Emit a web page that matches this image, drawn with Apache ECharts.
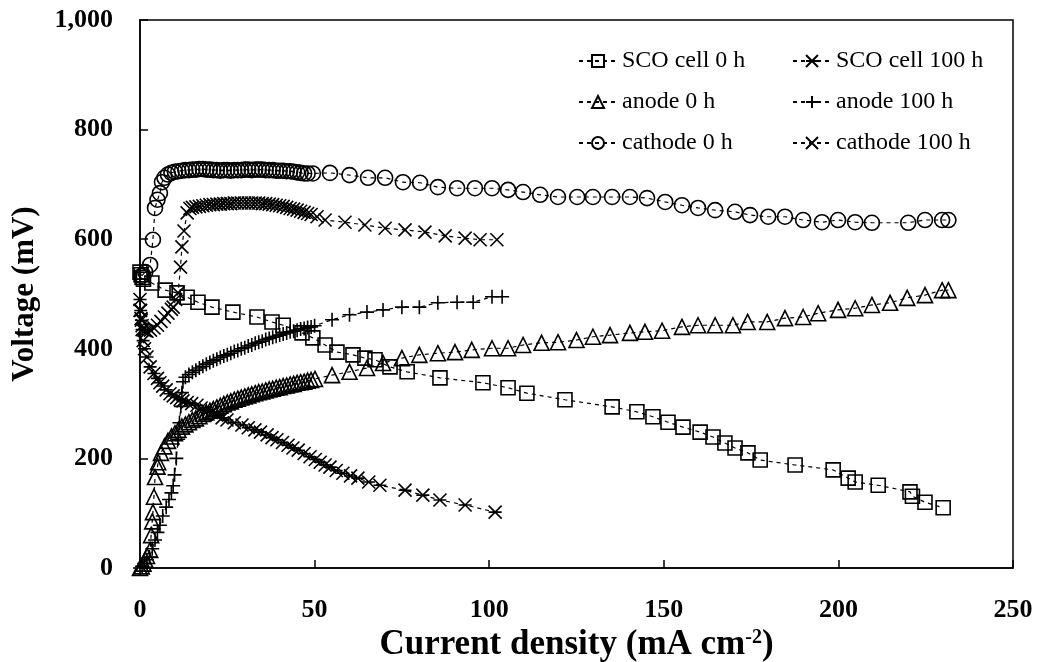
<!DOCTYPE html>
<html>
<head>
<meta charset="utf-8">
<title>Voltage vs current density</title>
<script src="https://cdn.jsdelivr.net/npm/echarts@6/dist/echarts.min.js"></script>
<style>
  html, body { margin: 0; padding: 0; background: #fff; }
  #chart { width: 1039px; height: 662px; }
</style>
</head>
<body>
<div id="chart"></div>
<script>
// Polarisation curves: [current density (mA cm-2), voltage (mV)]
const xTicks = [0, 50, 100, 150, 200, 250];
const yTicks = [0, 200, 400, 600, 800, 1000];

const scoCell0h = [
  [0, 540], [0.3, 535], [0.6, 530], [1, 527], [3.4, 520], [7.2, 507], [10.6, 502], [13.5, 494],
  [16.6, 485], [20.6, 476], [26.6, 467], [33.5, 458], [37.8, 449], [41, 443], [46.4, 429],
  [49.5, 420], [53, 407], [56.4, 394], [61, 389], [64.4, 383], [67.3, 380], [71.6, 367],
  [76.5, 358], [85.9, 347], [98.2, 338], [105.4, 329], [110.8, 319], [121.7, 307], [135.2, 294],
  [142.3, 285], [146.9, 276], [151.2, 266], [155.5, 257], [160.4, 248], [164.1, 239],
  [167.5, 228], [170.4, 219], [174.1, 210], [177.6, 197], [187.6, 188], [198.5, 179],
  [202.8, 164], [204.8, 157], [211.4, 151], [220.5, 139], [221.2, 131], [224.8, 120], [230, 110]
];

const scoCell100h = [
  [0, 490], [0.2, 470], [0.4, 452], [0.6, 435], [0.9, 415], [1.3, 400], [2, 385], [2.9, 367],
  [4, 355], [5, 346], [5.7, 338], [6.5, 332], [7.5, 325], [8.6, 318], [9.5, 314], [10.5, 311],
  [11.5, 308], [12.3, 305], [13.5, 302], [14.8, 300], [16.3, 297], [17.5, 292], [19, 288],
  [20.5, 284], [22, 279], [23.5, 274], [24.9, 270], [27, 265], [29.2, 261], [31, 256],
  [32.9, 252], [34.5, 248], [36.4, 243], [37.8, 238], [39.2, 234], [40.8, 229], [42.4, 224],
  [43.8, 219], [45.3, 215], [47, 209], [48.7, 203], [50.2, 198], [51.6, 193], [53, 188],
  [54.4, 184], [56.2, 178], [58.1, 173], [60.3, 168], [62.4, 164], [65.5, 157], [68.7, 151],
  [75.9, 142], [81, 133], [85.9, 124], [93.1, 115], [101.7, 102]
];

const anode0h = [
  [0, 0], [0.5, 3], [1, 8], [1.5, 15], [2, 22], [2.9, 33], [3.2, 60], [3.5, 85], [3.7, 102],
  [4, 130], [4.3, 166], [5, 185], [5.2, 193], [6, 210], [7, 222], [8, 232], [9, 240], [10, 246],
  [11, 252], [12, 258], [13, 262], [14, 266], [15, 270], [16, 273], [17, 277], [18, 281],
  [19, 284], [20, 287], [21, 290], [22, 293], [23, 296], [24, 299], [25, 302], [26, 304],
  [27, 307], [28, 309], [29, 311], [30, 313], [31, 315], [32, 317], [33, 319], [34, 321],
  [35, 322], [36, 324], [37, 326], [38, 327], [39, 329], [40, 330], [41, 332], [42, 333],
  [43, 335], [44, 336], [45, 338], [46, 339], [47, 340], [48, 342], [49, 343], [50.1, 345],
  [55, 352], [60, 358], [65, 365], [69.6, 374], [75, 383], [80, 389], [85.3, 392], [90.2, 394],
  [95, 398], [100.8, 401], [105.4, 401], [109.7, 407], [115, 411], [119.7, 412], [125, 416],
  [129.7, 422], [134.6, 425], [140.3, 429], [144.6, 431], [149.5, 433], [155.2, 440],
  [159.8, 443], [164.7, 443], [169.8, 443], [174, 449], [179.6, 449], [184.7, 456],
  [189.9, 458], [194.2, 465], [199.9, 471], [204.8, 474], [209.6, 480], [214.8, 484],
  [219.7, 493], [224.8, 498], [229.7, 507], [231.5, 507]
];

const anode100h = [
  [0, 0], [0.6, 3], [1.2, 8], [2, 15], [2.7, 20], [3.5, 35], [4.3, 51], [5, 65], [5.7, 78],
  [6.5, 95], [7.5, 111], [8.3, 125], [9, 137], [9.5, 150], [9.9, 170], [10.4, 200],
  [10.9, 235], [11.3, 265], [11.7, 295], [12, 320], [12.3, 340], [13, 348], [14, 353],
  [15, 357], [16, 361], [17, 365], [18, 368], [19, 372], [20, 375], [21, 378], [22, 381],
  [23, 384], [24, 387], [25, 389], [26, 392], [27, 395], [28, 397], [29, 400], [30, 402],
  [31, 405], [32, 407], [33, 410], [34, 412], [35, 414], [36, 417], [37, 419], [38, 421],
  [39, 423], [40, 425], [41, 427], [42, 429], [43, 431], [44, 432], [45, 434], [46, 436],
  [47, 437], [48, 439], [49, 440], [50, 442], [55, 453], [60, 462], [65, 467], [69.6, 471],
  [75, 476], [80, 476], [85.3, 484], [90.8, 485], [95.4, 485], [100.8, 495], [103.7, 495]
];

const cathode0h = [
  [0.5, 533], [1.5, 540], [2.9, 553], [3.7, 599], [4.3, 657], [5, 672], [5.7, 684], [6.3, 704],
  [7, 712], [8, 718], [9, 721], [10, 723], [11, 724], [12, 725], [13, 726], [14, 726], [15, 727],
  [16, 727], [17, 728], [18, 728], [19, 727], [20, 727], [21, 726], [22, 726], [23, 725],
  [24, 726], [25, 726], [26, 725], [27, 726], [28, 726], [29, 726], [30, 727], [31, 727],
  [32, 726], [33, 727], [34, 727], [35, 727], [36, 726], [37, 726], [38, 726], [39, 725],
  [40, 725], [41, 725], [42, 724], [43, 724], [44, 723], [45, 722], [46, 721], [47, 720],
  [48, 720], [49.5, 720], [54.4, 721], [60, 717], [65.3, 712], [70.2, 712], [75.3, 704],
  [80.2, 703], [85.3, 695], [90.8, 693], [95.9, 693], [100.8, 693], [105.4, 690], [109.7, 686],
  [114.6, 681], [119.7, 677], [125.2, 677], [129.7, 677], [135.2, 677], [140.3, 677],
  [145.2, 675], [150.4, 668], [155.2, 662], [159.8, 657], [164.7, 653], [170.4, 650],
  [174.7, 644], [179.9, 641], [184.7, 641], [189.9, 635], [195.3, 631], [199.9, 635],
  [204.8, 631], [209.6, 630], [220, 630], [224.8, 635], [229.7, 635], [231.5, 635]
];

const cathode100h = [
  [0, 470], [0.3, 455], [0.6, 442], [1, 435], [1.5, 433], [2, 432], [3, 434], [4, 438],
  [5, 443], [6, 450], [7, 458], [8, 465], [9, 472], [9.5, 476], [10.2, 490], [10.9, 502],
  [11.6, 549], [12, 586], [12.6, 615], [13.5, 648], [14.3, 656], [15, 658], [16, 659],
  [17, 660], [18, 661], [19, 662], [20, 663], [21, 663], [22, 664], [23, 664], [24, 665],
  [25, 665], [26, 665], [27, 666], [28, 666], [29, 666], [30, 666], [31, 666], [32, 666],
  [33, 666], [34, 666], [35, 665], [36, 665], [37, 664], [38, 663], [39, 662], [40, 661],
  [41, 660], [42, 658], [43, 656], [44, 655], [45, 653], [46, 651], [47, 649], [48, 647],
  [49, 645], [50.7, 641], [53, 635], [58.7, 631], [64.4, 626], [70.2, 620], [75.9, 617],
  [81.6, 613], [87.4, 606], [93.1, 602], [97.4, 599], [102.2, 599]
];

// Open marker shapes drawn as stroked paths
const SYM_STAR = 'path://M0,0L10,10M10,0L0,10M0,5L10,5';
const SYM_PLUS = 'path://M5,0L5,10M0,5L10,5';
const SYM_CROSS = 'path://M0,0L10,10M10,0L0,10';

const FONT = '"Liberation Serif", "Times New Roman", serif';

function makeSeries(name, data, symbol, size) {
  return {
    name: name,
    type: 'line',
    data: data,
    symbol: symbol,
    symbolSize: size,
    showSymbol: true,
    lineStyle: { color: '#000', width: 1.2, type: [4, 4] },
    itemStyle: { color: 'rgba(0,0,0,0)', borderColor: '#000', borderWidth: 1.6 },
    emphasis: { disabled: true },
    z: 3
  };
}

const chart = echarts.init(document.getElementById('chart'), null, { renderer: 'canvas' });

const legendCommon = {
  orient: 'vertical',
  top: 44,
  itemWidth: 38,
  itemHeight: 15,
  itemGap: 17,
  selectedMode: false,
  textStyle: { fontFamily: FONT, fontSize: 24, color: '#000' }
};

chart.setOption({
  animation: false,
  backgroundColor: '#fff',
  textStyle: { fontFamily: FONT },
  grid: {
    left: 140, right: 26, top: 20, bottom: 94,
    outerBoundsMode: 'none',
    show: true, borderColor: '#000', borderWidth: 1.5, backgroundColor: 'transparent'
  },
  legend: [
    Object.assign({}, legendCommon, { left: 573, data: ['SCO cell 0 h', 'anode 0 h', 'cathode 0 h'] }),
    Object.assign({}, legendCommon, { left: 787, data: ['SCO cell 100 h', 'anode 100 h', 'cathode 100 h'] })
  ],
  xAxis: {
    type: 'value',
    min: xTicks[0],
    max: xTicks[xTicks.length - 1],
    interval: 50,
    name: '{t|Current density (mA cm}{s|-2}{t|)}',
    nameLocation: 'middle',
    nameGap: 53,
    nameTextStyle: {
      rich: {
        t: { fontFamily: FONT, fontSize: 35, fontWeight: 'bold', color: '#000' },
        s: { fontFamily: FONT, fontSize: 20, fontWeight: 'bold', color: '#000', verticalAlign: 'top', padding: [0, 0, 14, 0] }
      }
    },
    axisLine: { show: true, lineStyle: { color: '#000', width: 1.5 } },
    axisTick: { show: true, inside: true, length: 8, lineStyle: { color: '#000', width: 1.5 } },
    axisLabel: {
      margin: 29,
      fontFamily: FONT, fontSize: 26, fontWeight: 'bold', color: '#000',
      formatter: v => (xTicks.includes(v) ? String(v) : '')
    },
    splitLine: { show: false }
  },
  yAxis: {
    type: 'value',
    min: yTicks[0],
    max: yTicks[yTicks.length - 1],
    interval: 200,
    name: 'Voltage (mV)',
    nameLocation: 'middle',
    nameGap: 100,
    nameTextStyle: { fontFamily: FONT, fontSize: 31, fontWeight: 'bold', color: '#000' },
    axisLine: { show: true, lineStyle: { color: '#000', width: 1.5 } },
    axisTick: { show: true, inside: true, length: 8, lineStyle: { color: '#000', width: 1.5 } },
    axisLabel: {
      margin: 27,
      fontFamily: FONT, fontSize: 26, fontWeight: 'bold', color: '#000',
      formatter: v => v.toLocaleString('en-US')
    },
    splitLine: { show: false }
  },
  series: [
    makeSeries('SCO cell 0 h', scoCell0h, 'rect', 14),
    makeSeries('SCO cell 100 h', scoCell100h, SYM_STAR, 13),
    makeSeries('anode 0 h', anode0h, 'triangle', 15),
    makeSeries('anode 100 h', anode100h, SYM_PLUS, 14),
    makeSeries('cathode 0 h', cathode0h, 'circle', 15),
    makeSeries('cathode 100 h', cathode100h, SYM_CROSS, 13)
  ]
});
</script>
</body>
</html>
